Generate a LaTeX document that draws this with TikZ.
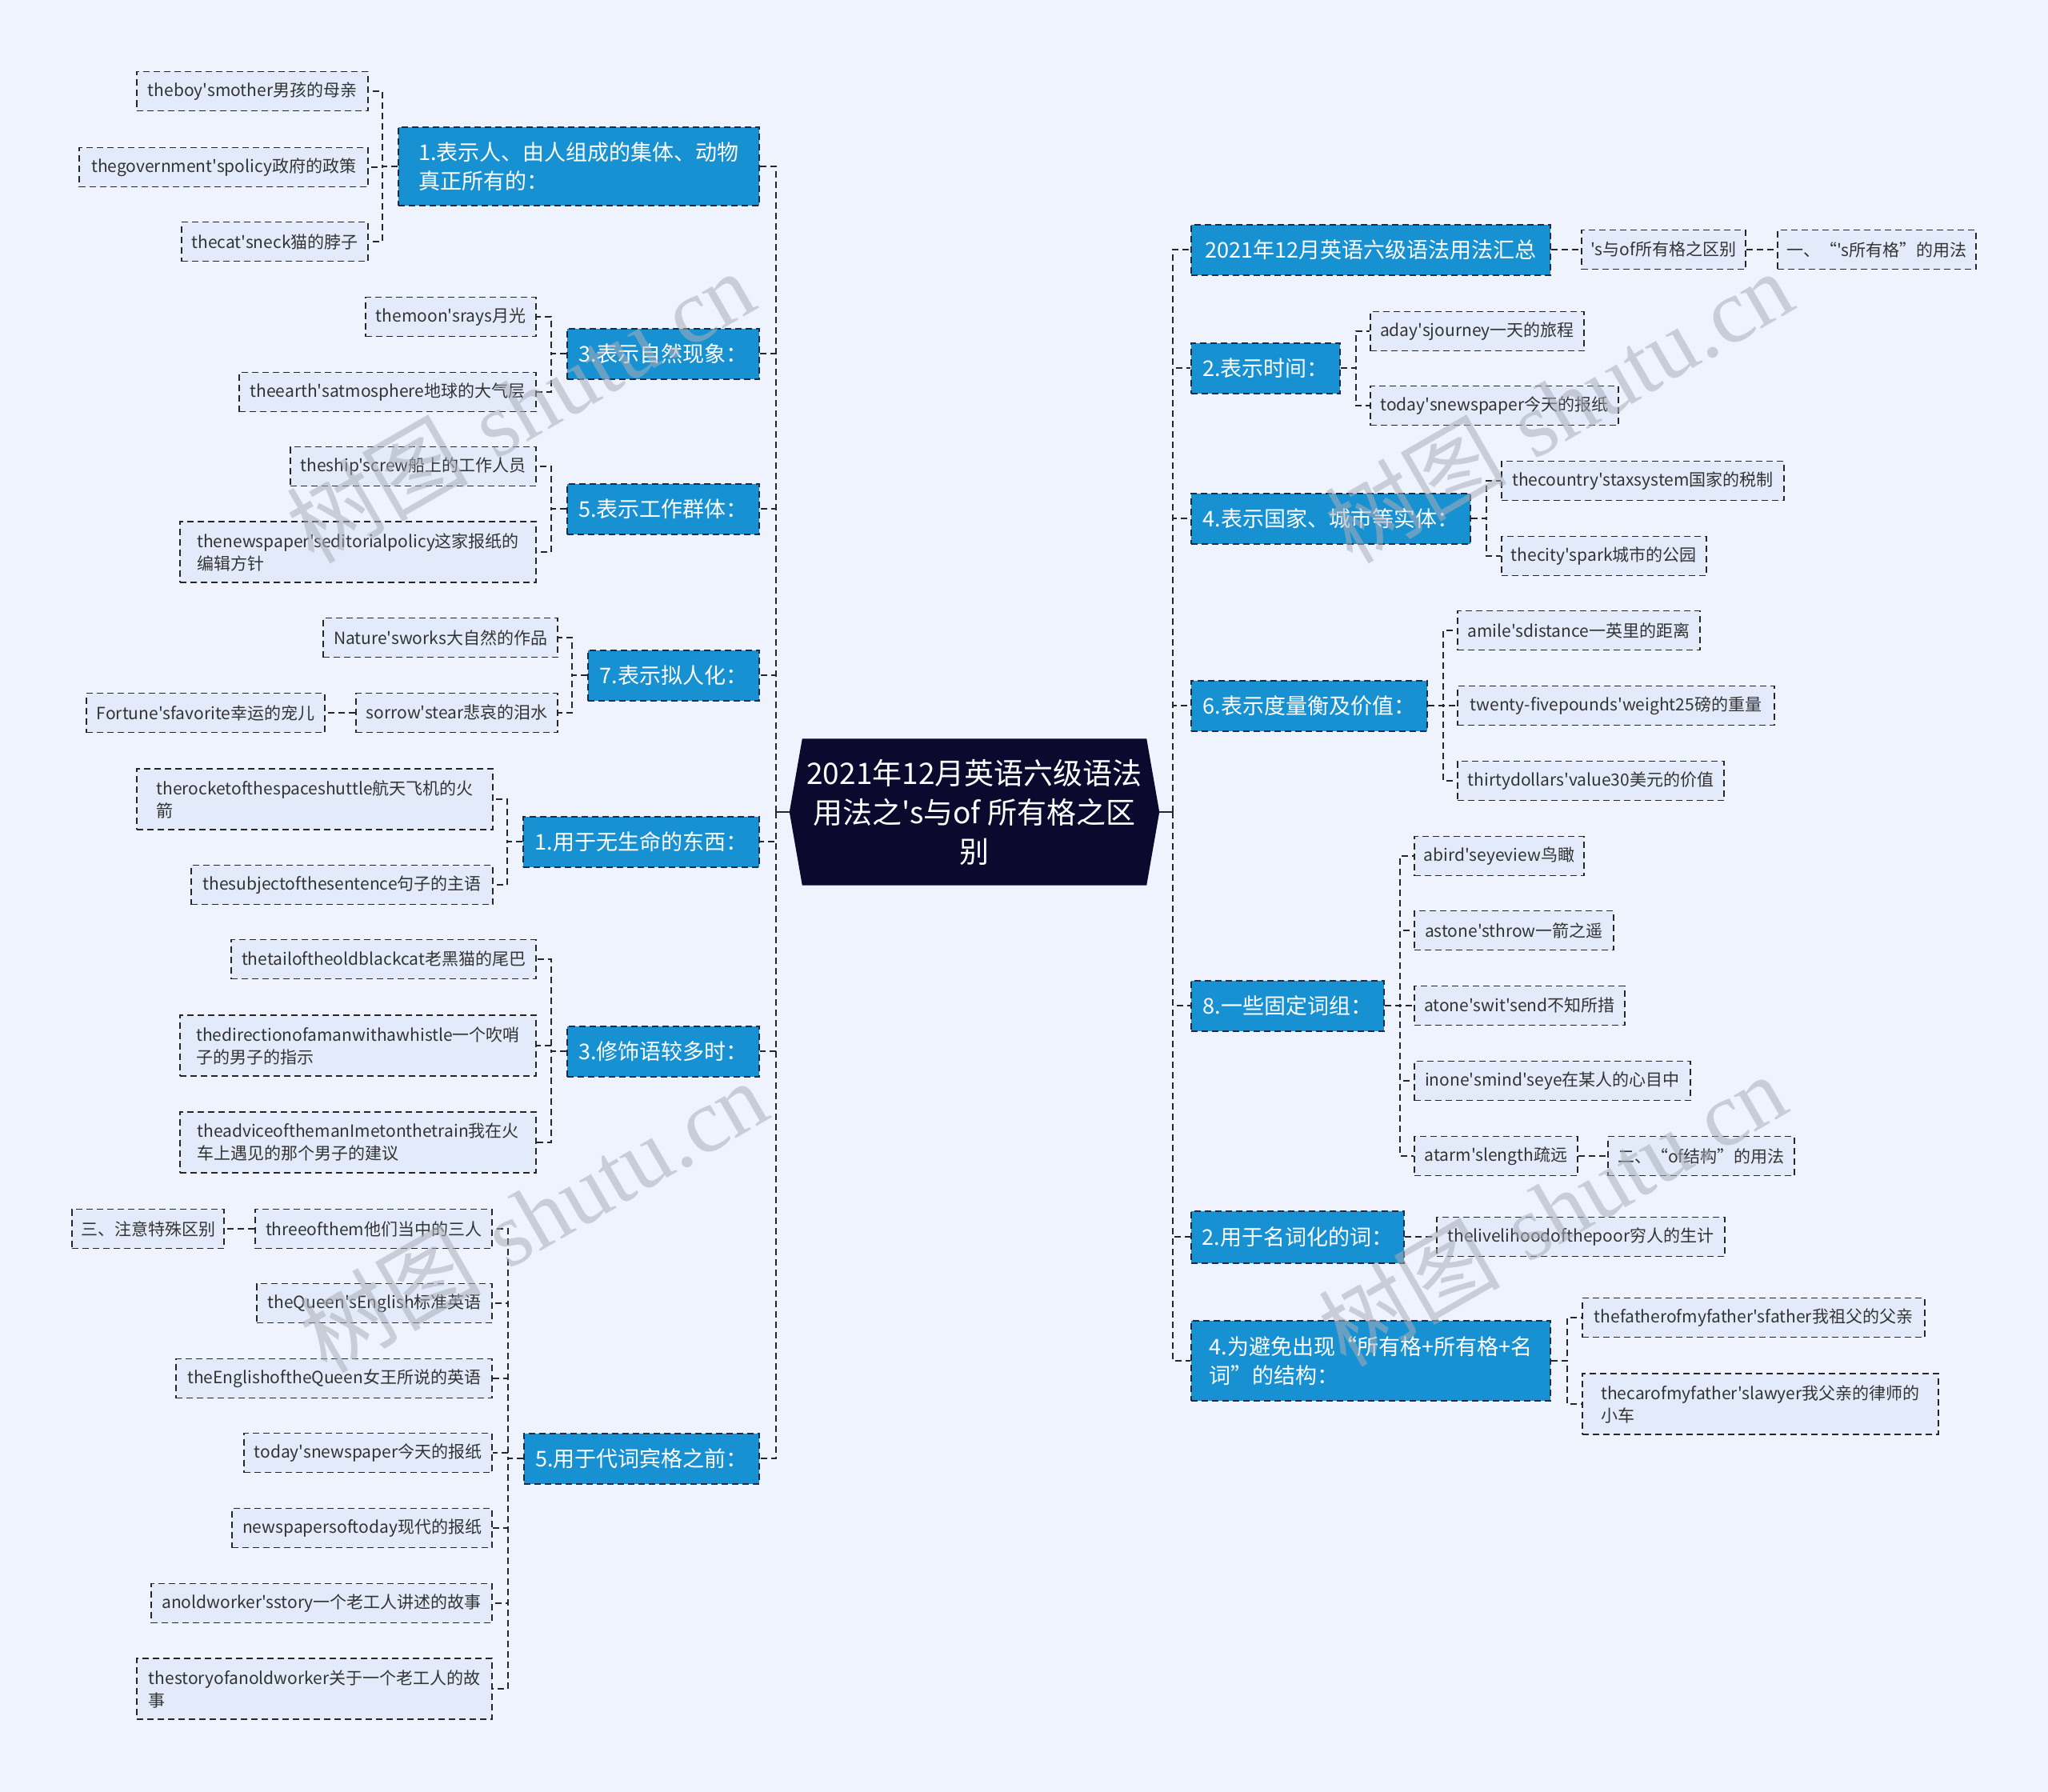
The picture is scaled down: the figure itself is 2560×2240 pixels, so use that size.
\documentclass[tikz,border=0pt]{standalone}
\usepackage{fontspec}
\newfontfamily\cjkfont{Noto Sans CJK SC}
\newfontfamily\markfont{Liberation Serif}
\usetikzlibrary{backgrounds}
\definecolor{pagebg}{HTML}{EEF3FD}
\definecolor{leaffill}{HTML}{E3EBFA}
\definecolor{leaftext}{HTML}{333333}
\definecolor{topicblue}{HTML}{1791D2}
\definecolor{topicedge}{HTML}{1B2B48}
\definecolor{rootnavy}{HTML}{0B0A2E}
\definecolor{linkgray}{HTML}{262626}
\definecolor{markgray}{HTML}{A9AEB8}

\begin{document}
\begin{tikzpicture}[x=1pt, y=-1pt,
  topic/.style={rectangle, draw=topicedge, fill=topicblue, text=white, line width=2pt, dash pattern=on 8pt off 5pt, minimum height=63pt, inner sep=0pt, align=left, font=\cjkfont\fontsize{27}{36}\selectfont},
  leaf/.style={rectangle, draw=linkgray, fill=leaffill, text=leaftext, line width=1.8pt, dash pattern=on 8pt off 5pt, minimum height=49pt, inner sep=0pt, align=left, font=\cjkfont\fontsize{21}{28}\selectfont},
  root/.style={rectangle, text=white, minimum width=430pt, minimum height=183pt, inner sep=0pt, align=center, font=\cjkfont\fontsize{37}{49}\selectfont},
  link/.style={draw=linkgray, line width=1.8pt, dash pattern=on 8pt off 5pt},
  trunk/.style={draw=linkgray, line width=2pt},
  wmark/.style={text=markgray, opacity=0.55, rotate=30, font=\fontsize{114}{114}\selectfont},
]
\useasboundingbox (0,0) rectangle (2560,2240);

% centre
\node[root] (root) at (1218,1015) {2021年12月英语六级语法\\用法之's与of 所有格之区\\别};
\coordinate (lhub) at (970,1015);
\coordinate (rhub) at (1466,1015);
\begin{scope}[on background layer]
  \fill[pagebg] (0,0) rectangle (2560,2240);
  \fill[rootnavy] (root.north west) -- (root.north east) -- ([xshift=16pt]root.east) -- (root.south east) -- (root.south west) -- ([xshift=-16pt]root.west) -- cycle;
\end{scope}
\draw[trunk] ([xshift=-16pt]root.west) -- (lhub);
\draw[trunk] ([xshift=16pt]root.east) -- (rhub);

% left topics
\node[topic, minimum width=451pt, minimum height=98pt, anchor=east] (t1) at (950,208) {1.表示人、由人组成的集体、动物\\真正所有的：};
\node[topic, minimum width=240pt, anchor=east] (t2) at (950,442) {3.表示自然现象：};
\node[topic, minimum width=240pt, anchor=east] (t3) at (950,636) {5.表示工作群体：};
\node[topic, minimum width=214pt, anchor=east] (t4) at (950,844) {7.表示拟人化：};
\node[topic, minimum width=295pt, anchor=east] (t5) at (950,1052) {1.用于无生命的东西：};
\node[topic, minimum width=240pt, anchor=east] (t6) at (950,1314) {3.修饰语较多时：};
\node[topic, minimum width=294pt, anchor=east] (t7) at (950,1823) {5.用于代词宾格之前：};
\foreach \t in {t1,t2,t3,t4,t5,t6,t7}
  \draw[link] (lhub) |- (\t.east);

% left leaves
\node[leaf, minimum width=289pt, anchor=east] (t1a) at (461,114) {theboy'smother男孩的母亲};
\node[leaf, minimum width=361pt, anchor=east] (t1b) at (461,209) {thegovernment'spolicy政府的政策};
\node[leaf, minimum width=233pt, anchor=east] (t1c) at (461,302) {thecat'sneck猫的脖子};
\node[leaf, minimum width=213pt, anchor=east] (t2a) at (671,396) {themoon'srays月光};
\node[leaf, minimum width=371pt, anchor=east] (t2b) at (671,490) {theearth'satmosphere地球的大气层};
\node[leaf, minimum width=307pt, anchor=east] (t3a) at (671,583) {theship'screw船上的工作人员};
\node[leaf, minimum width=445pt, minimum height=76pt, anchor=east] (t3b) at (671,690) {thenewspaper'seditorialpolicy这家报纸的\\编辑方针};
\node[leaf, minimum width=293pt, anchor=east] (t4a) at (698,797) {Nature'sworks大自然的作品};
\node[leaf, minimum width=252pt, anchor=east] (t4b) at (698,891) {sorrow'stear悲哀的泪水};
\node[leaf, minimum width=298pt, anchor=east] (t4c) at (407,891) {Fortune'sfavorite幸运的宠儿};
\node[leaf, minimum width=445pt, minimum height=76pt, anchor=east] (t5a) at (617,999) {therocketofthespaceshuttle航天飞机的火\\箭};
\node[leaf, minimum width=377pt, anchor=east] (t5b) at (617,1106) {thesubjectofthesentence句子的主语};
\node[leaf, minimum width=381pt, anchor=east] (t6a) at (671,1199) {thetailoftheoldblackcat老黑猫的尾巴};
\node[leaf, minimum width=445pt, minimum height=76pt, anchor=east] (t6b) at (671,1307) {thedirectionofamanwithawhistle一个吹哨\\子的男子的指示};
\node[leaf, minimum width=445pt, minimum height=76pt, anchor=east] (t6c) at (671,1428) {theadviceofthemanImetonthetrain我在火\\车上遇见的那个男子的建议};
\node[leaf, minimum width=296pt, anchor=east] (t7a) at (616,1536) {threeofthem他们当中的三人};
\node[leaf, minimum width=190pt, anchor=east] (t7x) at (281,1536) {三、注意特殊区别};
\node[leaf, minimum width=294pt, anchor=east] (t7b) at (616,1629) {theQueen'sEnglish标准英语};
\node[leaf, minimum width=395pt, anchor=east] (t7c) at (616,1723) {theEnglishoftheQueen女王所说的英语};
\node[leaf, minimum width=310pt, anchor=east] (t7d) at (616,1816) {today'snewspaper今天的报纸};
\node[leaf, minimum width=325pt, anchor=east] (t7e) at (616,1910) {newspapersoftoday现代的报纸};
\node[leaf, minimum width=426pt, anchor=east] (t7f) at (616,2004) {anoldworker'sstory一个老工人讲述的故事};
\node[leaf, minimum width=444pt, minimum height=76pt, anchor=east] (t7g) at (616,2111) {thestoryofanoldworker关于一个老工人的故\\事};

\foreach \c in {t1a,t1b,t1c}
  \draw[link] (t1.west) -- ++(-19,0) |- (\c.east);
\foreach \c in {t2a,t2b}
  \draw[link] (t2.west) -- ++(-19,0) |- (\c.east);
\foreach \c in {t3a,t3b}
  \draw[link] (t3.west) -- ++(-19,0) |- (\c.east);
\foreach \c in {t4a,t4b}
  \draw[link] (t4.west) -- ++(-19,0) |- (\c.east);
\foreach \c in {t5a,t5b}
  \draw[link] (t5.west) -- ++(-19,0) |- (\c.east);
\foreach \c in {t6a,t6b,t6c}
  \draw[link] (t6.west) -- ++(-19,0) |- (\c.east);
\foreach \c in {t7a,t7b,t7c,t7d,t7e,t7f,t7g}
  \draw[link] (t7.west) -- ++(-19,0) |- (\c.east);
\draw[link] (t4b.west) -- (t4c.east);
\draw[link] (t7a.west) -- (t7x.east);

% right topics
\node[topic, minimum width=449pt, anchor=west] (r1) at (1488,312) {2021年12月英语六级语法用法汇总};
\node[topic, minimum width=186pt, anchor=west] (r2) at (1488,460) {2.表示时间：};
\node[topic, minimum width=349pt, anchor=west] (r3) at (1488,648) {4.表示国家、城市等实体：};
\node[topic, minimum width=295pt, anchor=west] (r4) at (1488,882) {6.表示度量衡及价值：};
\node[topic, minimum width=241pt, anchor=west] (r5) at (1488,1257) {8.一些固定词组：};
\node[topic, minimum width=266pt, minimum height=65pt, anchor=west] (r6) at (1488,1546) {2.用于名词化的词：};
\node[topic, minimum width=449pt, minimum height=100pt, anchor=west] (r7) at (1488,1701) {4.为避免出现“所有格+所有格+名\\词”的结构：};
\foreach \t in {r1,r2,r3,r4,r5,r6,r7}
  \draw[link] (rhub) |- (\t.west);

% right leaves
\node[leaf, minimum width=205pt, anchor=west] (r1a) at (1976,312) {'s与of所有格之区别};
\node[leaf, minimum width=248pt, anchor=west] (r1b) at (2221,312) {一、“'s所有格”的用法};
\node[leaf, minimum width=267pt, anchor=west] (r2a) at (1712,414) {aday'sjourney一天的旅程};
\node[leaf, minimum width=310pt, anchor=west] (r2b) at (1712,507) {today'snewspaper今天的报纸};
\node[leaf, minimum width=353pt, anchor=west] (r3a) at (1876,601) {thecountry'staxsystem国家的税制};
\node[leaf, minimum width=256pt, anchor=west] (r3b) at (1876,695) {thecity'spark城市的公园};
\node[leaf, minimum width=303pt, anchor=west] (r4a) at (1821,788) {amile'sdistance一英里的距离};
\node[leaf, minimum width=396pt, anchor=west] (r4b) at (1821,882) {twenty-fivepounds'weight25磅的重量};
\node[leaf, minimum width=333pt, anchor=west] (r4c) at (1821,976) {thirtydollars'value30美元的价值};
\node[leaf, minimum width=212pt, anchor=west] (r5a) at (1767,1070) {abird'seyeview鸟瞰};
\node[leaf, minimum width=249pt, anchor=west] (r5b) at (1767,1163) {astone'sthrow一箭之遥};
\node[leaf, minimum width=263pt, anchor=west] (r5c) at (1767,1257) {atone'swit'send不知所措};
\node[leaf, minimum width=345pt, anchor=west] (r5d) at (1767,1351) {inone'smind'seye在某人的心目中};
\node[leaf, minimum width=204pt, anchor=west] (r5e) at (1767,1445) {atarm'slength疏远};
\node[leaf, minimum width=233pt, anchor=west] (r5f) at (2009,1445) {二、“of结构”的用法};
\node[leaf, minimum width=360pt, anchor=west] (r6a) at (1795,1546) {thelivelihoodofthepoor穷人的生计};
\node[leaf, minimum width=428pt, anchor=west] (r7a) at (1977,1647) {thefatherofmyfather'sfather我祖父的父亲};
\node[leaf, minimum width=445pt, minimum height=76pt, anchor=west] (r7b) at (1977,1755) {thecarofmyfather'slawyer我父亲的律师的\\小车};

\draw[link] (r1.east) -- (r1a.west);
\draw[link] (r1a.east) -- (r1b.west);
\foreach \c in {r2a,r2b}
  \draw[link] (r2.east) -- ++(19,0) |- (\c.west);
\foreach \c in {r3a,r3b}
  \draw[link] (r3.east) -- ++(19,0) |- (\c.west);
\foreach \c in {r4a,r4b,r4c}
  \draw[link] (r4.east) -- ++(19,0) |- (\c.west);
\foreach \c in {r5a,r5b,r5c,r5d,r5e}
  \draw[link] (r5.east) -- ++(19,0) |- (\c.west);
\draw[link] (r5e.east) -- (r5f.west);
\draw[link] (r6.east) -- (r6a.west);
\foreach \c in {r7a,r7b}
  \draw[link] (r7.east) -- ++(20,0) |- (\c.west);

% watermarks
\node[wmark] (wm1) at (650,508) {{\cjkfont 树图} {\markfont shutu.cn}};
\node[wmark] (wm2) at (666,1520) {{\cjkfont 树图} {\markfont shutu.cn}};
\node[wmark] (wm3) at (1948,508) {{\cjkfont 树图} {\markfont shutu.cn}};
\node[wmark] (wm4) at (1940,1512) {{\cjkfont 树图} {\markfont shutu.cn}};
\end{tikzpicture}
\end{document}
